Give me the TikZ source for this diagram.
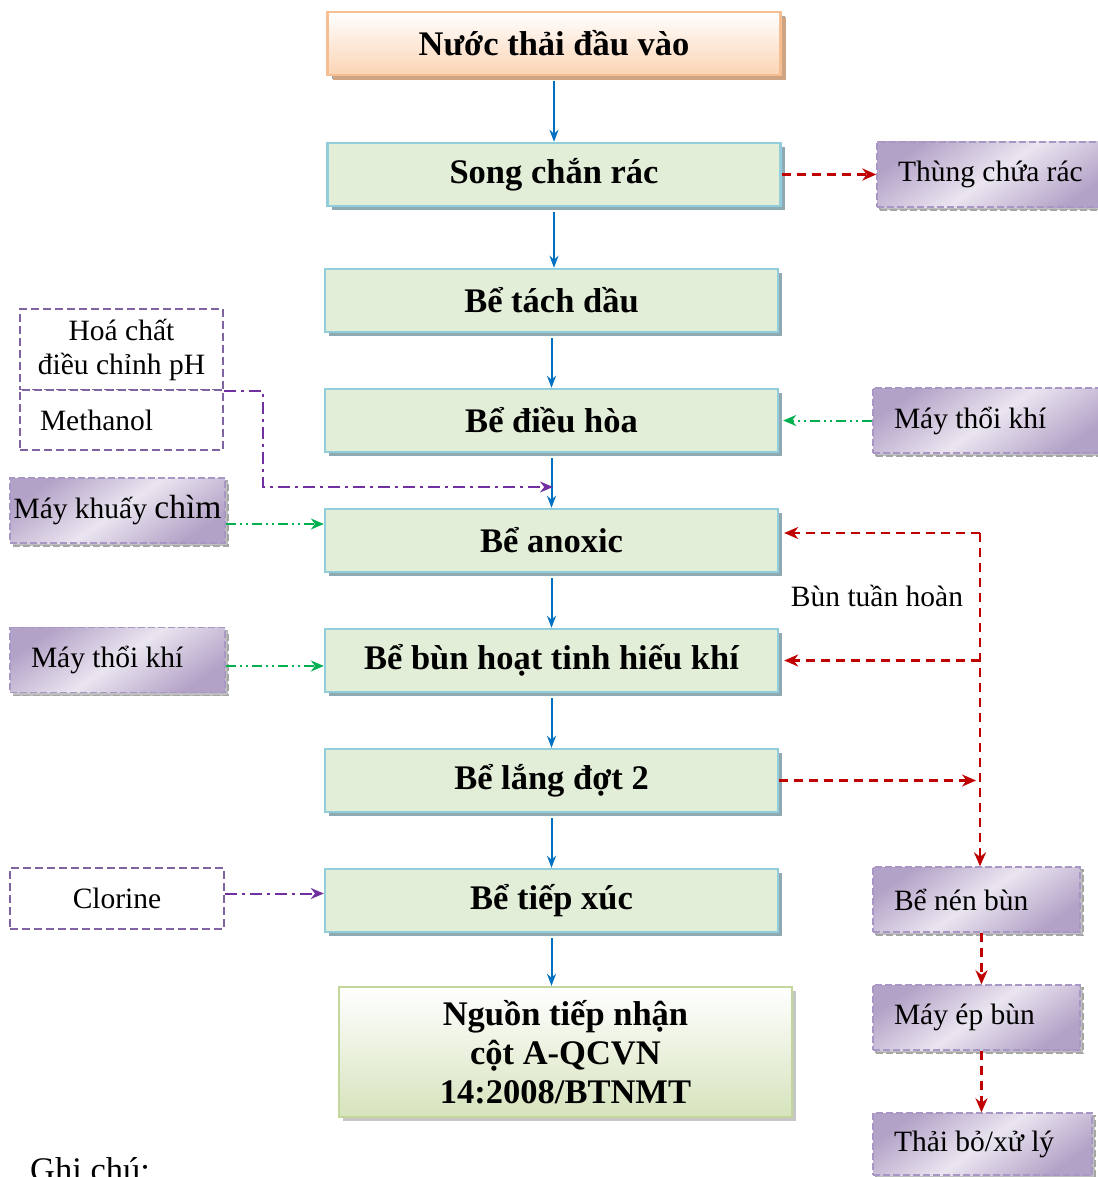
\documentclass[tikz,border=0pt]{standalone}
\usepackage{fontspec}
\setmainfont{Liberation Serif}
\usetikzlibrary{shadows,arrows.meta,positioning}

\definecolor{boxgreen}{HTML}{E3EED9}
\definecolor{boxedge}{HTML}{92CDDC}
\definecolor{boxshadow}{HTML}{8FA9B3}
\definecolor{peach}{HTML}{FBD4B4}
\definecolor{peachedge}{HTML}{F7BE92}
\definecolor{peachshadow}{HTML}{CFA483}
\definecolor{lime}{HTML}{D6E3BC}
\definecolor{limeedge}{HTML}{C3D69B}
\definecolor{lavdark}{HTML}{B3A2C7}
\definecolor{lavlight}{HTML}{EAE5F0}
\definecolor{lavedge}{HTML}{A897C5}
\definecolor{dosepurple}{HTML}{8064A2}
\definecolor{linepurple}{HTML}{7030A0}
\definecolor{airgreen}{HTML}{00B050}
\definecolor{sludgered}{HTML}{C00000}
\definecolor{flowblue}{HTML}{0070C0}

\tikzstyle{mainbox}=[draw=boxedge, line width=2.4pt, fill=boxgreen, minimum width=453pt, minimum height=63pt, inner sep=0pt, font=\fontsize{34.5}{39}\selectfont\bfseries, drop shadow={shadow xshift=4pt, shadow yshift=-4pt, fill=boxshadow, opacity=1}]
\tikzstyle{inletbox}=[mainbox, draw=peachedge, top color=white, bottom color=peach, drop shadow={shadow xshift=5pt, shadow yshift=-5pt, fill=peachshadow, opacity=1}]
\tikzstyle{outletbox}=[mainbox, draw=limeedge, top color=white, bottom color=lime, minimum height=130pt, align=center, drop shadow={shadow xshift=4pt, shadow yshift=-4pt, fill=gray!45, opacity=1}]
\tikzstyle{sidebox}=[draw=lavedge, dash pattern=on 7pt off 3pt, line width=1.4pt, top color=lavdark, bottom color=lavdark, middle color=lavlight, shading angle=35, minimum height=65pt, inner xsep=21pt, inner ysep=0pt, align=flush left, font=\fontsize{29.5}{34}\selectfont, drop shadow={shadow xshift=3pt, shadow yshift=-3pt, fill=gray!50, draw=gray!70, dash pattern=on 7pt off 3pt, opacity=1}]
\tikzstyle{dosebox}=[draw=dosepurple, dash pattern=on 8pt off 4pt, line width=1.8pt, fill=white, inner sep=0pt, minimum width=203pt, font=\fontsize{29.5}{34}\selectfont]
\tikzstyle{flowarrow}=[draw=flowblue, line width=2pt, shorten <=5pt, -{Stealth[length=12pt,width=9pt]}]
\tikzstyle{sludge}=[draw=sludgered, line width=2.4pt, dash pattern=on 9pt off 6pt, -{Stealth[length=14pt,width=12pt]}]
\tikzstyle{airline}=[draw=airgreen, line width=2pt, dash pattern=on 10pt off 4pt on 2pt off 4pt on 2pt off 4pt, -{Stealth[length=13pt,width=11pt]}]
\tikzstyle{doseline}=[draw=linepurple, line width=2pt, dash pattern=on 12pt off 5pt on 3pt off 5pt, -{Stealth[length=13pt,width=11pt]}]

\begin{document}
\begin{tikzpicture}[x=1pt,y=-1pt]
	\useasboundingbox (0,0) rectangle (1097,1177);
	% Define the nodes in the picture
	\node (inlet) [inletbox] at (554,43.5) {Nước thải đầu vào};
	\node (screen) [mainbox,below of=inlet,node distance=131pt] {Song chắn rác};
	\node (oilsep) [mainbox,below of=screen,node distance=126pt,xshift=-2.5pt] {Bể tách dầu};
	\node (equal) [mainbox,below of=oilsep,node distance=120pt] {Bể điều hòa};
	\node (anoxic) [mainbox,below of=equal,node distance=120pt] {Bể anoxic};
	\node (aerob) [mainbox,below of=anoxic,node distance=120pt] {Bể bùn hoạt tinh hiếu khí};
	\node (settle) [mainbox,below of=aerob,node distance=120pt] {Bể lắng đợt 2};
	\node (contact) [mainbox,below of=settle,node distance=120pt] {Bể tiếp xúc};
	\node (outlet) [outletbox,below of=contact,node distance=151.5pt,xshift=14pt] {Nguồn tiếp nhận\\cột A-QCVN\\14:2008/BTNMT};

	\node (trash) [sidebox,text width=190pt,right of=screen,node distance=439pt] {Thùng chứa rác};
	\node (blower_r) [sidebox,text width=190pt,right of=equal,node distance=437.5pt] {Máy thổi khí};
	\node (mixer) [sidebox,align=center,inner xsep=0pt,minimum width=215pt] at (117.5,510.5) {Máy khuấy {\fontsize{33.5}{34}\selectfont chìm}};
	\node (blower_l) [sidebox,text width=173pt,below of=mixer,node distance=149.5pt] {Máy thổi khí};
	\node (thicken) [sidebox,text width=165pt] at (976.5,899.5) {Bể nén bùn};
	\node (press) [sidebox,text width=165pt,below of=thicken,node distance=118pt] {Máy ép bùn};
	\node (dispose) [sidebox,text width=177pt,minimum height=62pt,below of=press,node distance=126.5pt,xshift=6pt] {Thải bỏ/xử lý};

	\node (chem) [dosebox,minimum height=81pt,align=center] at (121.5,349.5) {Hoá chất\\điều chỉnh pH};
	\node (methanol) [dosebox,minimum height=60pt,text width=163pt,inner xsep=20pt,align=flush left,below of=chem,node distance=70.5pt] {Methanol};
	\node (chlorine) [dosebox,minimum width=214pt,minimum height=61pt] at (117,898.5) {Clorine};

	\node (recirc_lbl) [font=\fontsize{29.5}{34}\selectfont] at (877,596) {Bùn tuần hoàn};
	\node (note) [font=\fontsize{34.5}{39}\selectfont,anchor=base west,inner sep=0pt] at (30,1181) {Ghi chú:};

	\coordinate (recirc) at (980,533);
	\coordinate (dosept) at (553,487);

	% Define the edges in the picture
	\draw [flowarrow] (inlet.south) -- (screen.north);
	\draw [flowarrow] (screen.south) -- (screen.south |- oilsep.north);
	\draw [flowarrow] (oilsep.south) -- (equal.north);
	\draw [flowarrow] (equal.south) -- (anoxic.north);
	\draw [flowarrow] (anoxic.south) -- (aerob.north);
	\draw [flowarrow] (aerob.south) -- (settle.north);
	\draw [flowarrow] (settle.south) -- (contact.north);
	\draw [flowarrow] (contact.south) -- (contact.south |- outlet.north);

	\draw [sludge] (screen.east) -- (trash.west);
	\draw [sludge] (recirc) -- ([xshift=5pt]recirc -| anoxic.east);
	\draw [sludge] (recirc |- aerob.east) -- ([xshift=5pt]aerob.east);
	\draw [sludge] (settle.east) -- ([xshift=-4pt]recirc |- settle.east);
	\draw [sludge] (recirc) -- (recirc |- thicken.north);
	\draw [sludge] ([xshift=5pt]thicken.south) -- ([xshift=5pt]press.north);
	\draw [sludge] ([xshift=5pt]press.south) -- ([xshift=-1pt]dispose.north);

	\draw [airline] (blower_r.west) -- ([xshift=4pt]equal.east);
	\draw [airline] ([yshift=-13.5pt]mixer.east) -- ([yshift=16.5pt]anoxic.west);
	\draw [airline] ([yshift=-6pt]blower_l.east) -- ([yshift=-6pt]blower_l.east -| aerob.west);

	\draw [doseline] (chem.south east) -- ++(39pt,0) |- (dosept);
	\draw [doseline] ([yshift=5pt]chlorine.east) -- ([yshift=5pt]chlorine.east -| contact.west);
\end{tikzpicture}
\end{document}
